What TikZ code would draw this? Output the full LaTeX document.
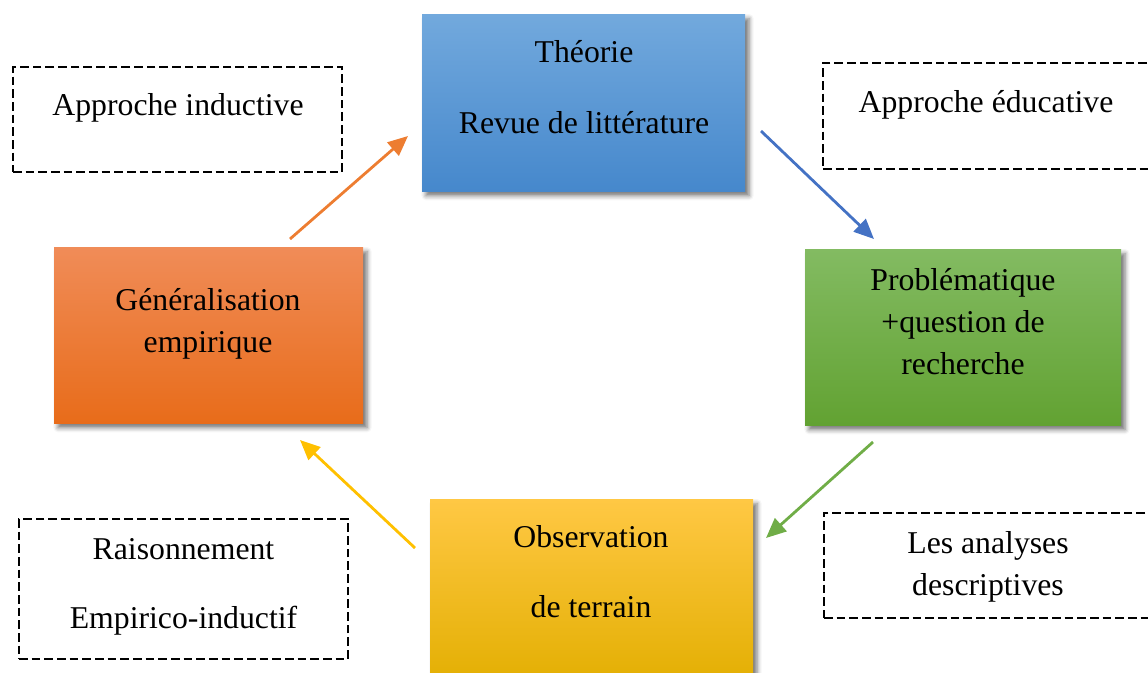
\documentclass[tikz,border=0pt]{standalone}
\usepackage{fontspec}
\setmainfont{Liberation Serif}
\usetikzlibrary{arrows.meta,shadows.blur}
\definecolor{bluetop}{HTML}{72A9DD}
\definecolor{bluebot}{HTML}{4688CC}
\definecolor{greentop}{HTML}{83BB62}
\definecolor{greenbot}{HTML}{62A232}
\definecolor{orangetop}{HTML}{F08C58}
\definecolor{orangebot}{HTML}{E86C1A}
\definecolor{yellowtop}{HTML}{FFC844}
\definecolor{yellowmid}{HTML}{FFC000}
\definecolor{yellowbot}{HTML}{E2AE00}
\definecolor{arrblue}{HTML}{4472C4}
\definecolor{arrgreen}{HTML}{70AD47}
\definecolor{arrorange}{HTML}{ED7D31}
\definecolor{arryellow}{HTML}{FFC000}
\tikzset{
  colbox/.style={rectangle, inner sep=0pt, blur shadow={shadow xshift=3pt, shadow yshift=-3.5pt, shadow blur radius=3.5pt, shadow opacity=55}},
  dashbox/.style={rectangle, inner sep=0pt, draw=black, line width=1.9pt, dash pattern=on 6.5pt off 3pt},
  txt/.style={anchor=base, inner sep=0pt, font=\fontsize{23.8}{28}\selectfont},
  arr/.style={line width=2.1pt, -{Triangle[length=15pt,width=13pt]}}
}
\begin{document}
\begin{tikzpicture}[x=0.75pt,y=-0.75pt]
\useasboundingbox (0,0) rectangle (1148,672);
% coloured boxes
\node[colbox, minimum width=242.25pt, minimum height=132.75pt, top color=bluetop, bottom color=bluebot] (theo) at (583.5,102.5) {};
\node[colbox, minimum width=237pt, minimum height=132pt, top color=greentop, bottom color=greenbot] (prob) at (963,337) {};
\node[colbox, minimum width=231.75pt, minimum height=132pt, top color=orangetop, bottom color=orangebot] (gen) at (208.5,335) {};
\node[colbox, minimum width=242.25pt, minimum height=143.25pt, top color=yellowtop, middle color=yellowmid, bottom color=yellowbot] (obs) at (591.5,594.5) {};
% dashed boxes
\node[dashbox, minimum width=246.75pt, minimum height=78.75pt] (tl) at (177.5,119.5) {};
\node[dashbox, minimum width=252.75pt, minimum height=79.5pt] (tr) at (991.5,116) {};
\node[dashbox, minimum width=246.75pt, minimum height=105pt] (bl) at (183.5,589) {};
\node[dashbox, minimum width=252pt, minimum height=78.75pt] (br) at (992,565.5) {};
% texts
\node[txt] (t1) at (584,62) {Théorie};
\node[txt] (t2) at (584,133) {Revue de littérature};
\node[txt] (p1) at (963,290) {Problématique};
\node[txt] (p2) at (963,332) {+question de};
\node[txt] (p3) at (963,374) {recherche};
\node[txt] (g1) at (208,310) {Généralisation};
\node[txt] (g2) at (208,352) {empirique};
\node[txt] (o1) at (591,547) {Observation};
\node[txt] (o2) at (591,617) {de terrain};
\node[txt] (tlt) at (178,115) {Approche inductive};
\node[txt] (trt) at (986,112) {Approche éducative};
\node[txt] (bl1) at (183.5,559) {Raisonnement};
\node[txt] (bl2) at (183.5,628) {Empirico-inductif};
\node[txt] (br1) at (988,553) {Les analyses};
\node[txt] (br2) at (988,595) {descriptives};
% arrow end points
\coordinate (a1s) at (290,239);
\coordinate (a1e) at (408,136);
\coordinate (a2s) at (761,131);
\coordinate (a2e) at (874,239);
\coordinate (a3s) at (873,442);
\coordinate (a3e) at (766,538);
\coordinate (a4s) at (415,548);
\coordinate (a4e) at (300,440);
\draw[arr, arrorange] (a1s) -- (a1e);
\draw[arr, arrblue] (a2s) -- (a2e);
\draw[arr, arrgreen] (a3s) -- (a3e);
\draw[arr, arryellow] (a4s) -- (a4e);
\end{tikzpicture}
\end{document}
